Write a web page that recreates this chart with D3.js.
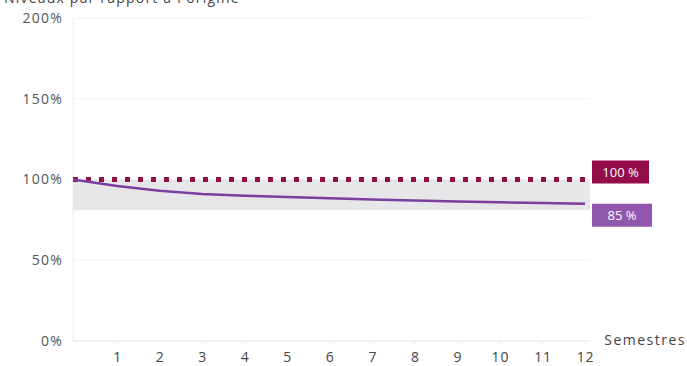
<!DOCTYPE html>
<html>
<head>
<meta charset="utf-8">
<script src="https://cdn.jsdelivr.net/npm/d3@7"></script>
<style>
  html, body { margin: 0; padding: 0; background: #fff; }
  svg { display: block; }
  text { font-family: "Open Sans", "DejaVu Sans", sans-serif; }
</style>
</head>
<body>
<svg id="chart" width="687" height="366"></svg>
<script>
// Semesters on the x axis (0 = origin)
const semesters = [0, 1, 2, 3, 4, 5, 6, 7, 8, 9, 10, 11, 12];
// Level relative to origin, in percent
const levels = [100, 96, 93, 91, 90, 89.2, 88.4, 87.6, 87, 86.4, 85.9, 85.4, 85];
// Reference level (dotted line)
const referenceLevel = [100, 100];
// Shaded band between these two levels
const bandLevels = [81, 100];
// Axis ticks
const yTicks = [0, 50, 100, 150, 200];
const yTickLabels = ["0%", "50%", "100%", "150%", "200%"];
const xTicks = [1, 2, 3, 4, 5, 6, 7, 8, 9, 10, 11, 12];
// End-of-line labels
const endLabels = ["100 %", "85 %"];

const svg = d3.select("#chart");
const x = d3.scaleLinear().domain([0, 12]).range([74.5, 585]);
const y = d3.scaleLinear().domain([0, 200]).range([341, 18]);
const left = 73, right = 590;

// Title (top cropped by the frame)
svg.append("text")
  .attr("x", 4).attr("y", 3)
  .attr("font-size", 14).attr("fill", "#444")
  .attr("letter-spacing", 1.2)
  .text("Niveaux par rapport à l'origine");

// Faint horizontal guides
svg.append("g").selectAll("line")
  .data([50, 150, 200])
  .join("line")
  .attr("x1", left).attr("x2", right)
  .attr("y1", d => y(d)).attr("y2", d => y(d))
  .attr("stroke", "#f4f4f4").attr("stroke-width", 1);

// Vertical axis line
svg.append("line")
  .attr("x1", left).attr("x2", left)
  .attr("y1", y(200)).attr("y2", y(0))
  .attr("stroke", "#eeeeee");

// Horizontal axis
const xAxis = d3.axisBottom(x).tickValues(xTicks).tickSize(3).tickPadding(8);
const gx = svg.append("g").attr("transform", `translate(0,${y(0)})`).call(xAxis);
gx.select(".domain").attr("d", `M${left},0H${right}`).attr("stroke", "#e2e2e2");
gx.selectAll(".tick line").attr("stroke", "#eeeeee");
gx.selectAll(".tick text").attr("font-size", 14).attr("fill", "#444")
  .attr("letter-spacing", 0.8)
  .attr("font-family", "\"Open Sans\", sans-serif");

// Y tick labels
const gy = d3.axisLeft(y).tickValues(yTicks).tickSize(0).tickPadding(10)
  .tickFormat((d, i) => yTickLabels[i]);
const gyg = svg.append("g").attr("transform", `translate(${left},0)`).call(gy);
gyg.select(".domain").remove();
gyg.selectAll(".tick text").attr("font-size", 14).attr("fill", "#555")
  .attr("letter-spacing", 1.2)
  .attr("font-weight", 500)
  .attr("font-family", "\"Open Sans\", sans-serif");

// Axis title
svg.append("text")
  .attr("x", 686).attr("y", y(0) + 4)
  .attr("text-anchor", "end")
  .attr("font-size", 14).attr("fill", "#444")
  .attr("letter-spacing", 1.5)
  .text("Semestres");

// Shaded band
svg.append("rect")
  .attr("x", left).attr("width", right - left)
  .attr("y", y(bandLevels[1])).attr("height", y(bandLevels[0]) - y(bandLevels[1]))
  .attr("fill", "#e7e7ea");

// Reference dotted line
svg.append("line")
  .attr("x1", left).attr("x2", right - 2)
  .attr("y1", y(referenceLevel[0])).attr("y2", y(referenceLevel[1]))
  .attr("stroke", "#8e1046").attr("stroke-width", 5)
  .attr("stroke-dasharray", "5,8");

// Level curve
const line = d3.line().x((d, i) => i === 0 ? left : x(semesters[i])).y(d => y(d));
svg.append("path")
  .datum(levels)
  .attr("d", line)
  .attr("fill", "none")
  .attr("stroke", "#7d3f9f").attr("stroke-width", 2.5);

// End labels
const labelData = [
  { text: endLabels[0], v: referenceLevel[1], dy: -8, fill: "#930d4a" },
  { text: endLabels[1], v: levels[levels.length - 1], dy: 11, fill: "#9156ae" }
];
const lg = svg.append("g").selectAll("g").data(labelData).join("g")
  .attr("transform", d => `translate(592,${y(d.v) + d.dy})`);
lg.append("rect")
  .attr("x", 0).attr("y", -11).attr("width", (d, i) => i === 0 ? 57 : 60).attr("height", 23)
  .attr("fill", d => d.fill);
lg.append("text")
  .attr("x", (d, i) => i === 0 ? 28.5 : 30).attr("y", 5)
  .attr("text-anchor", "middle")
  .attr("font-size", 13).attr("fill", "#fff")
  .text(d => d.text);
</script>
</body>
</html>
